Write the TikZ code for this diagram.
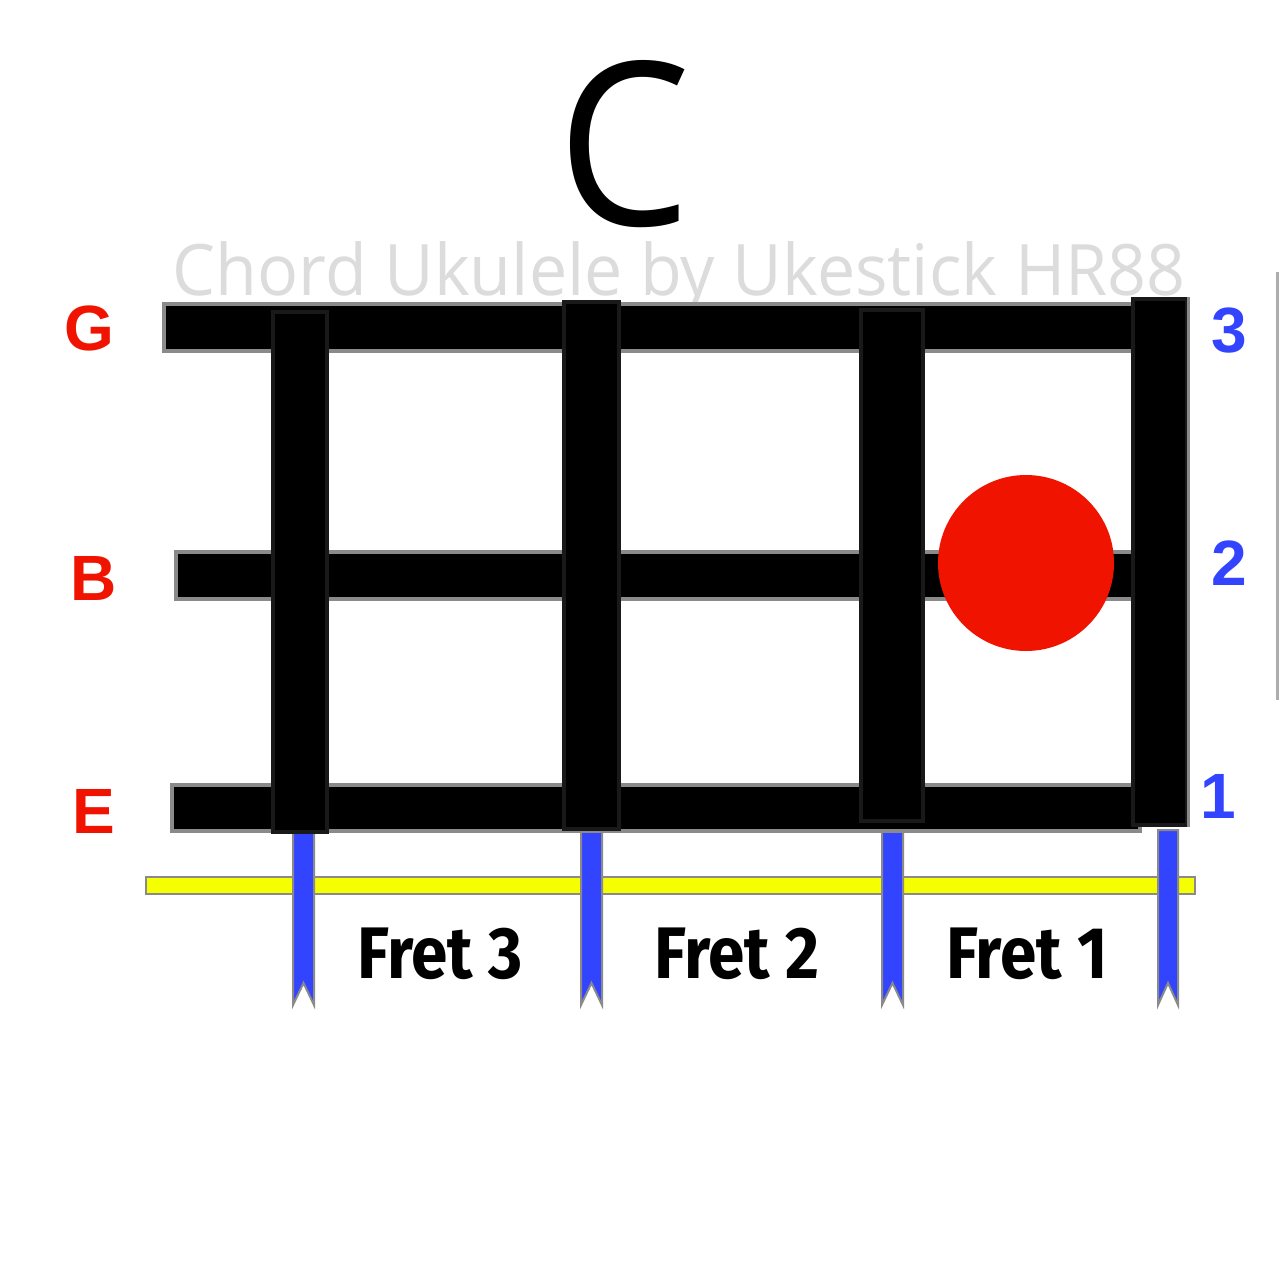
\documentclass[tikz,border=0pt]{standalone}
\usepackage{fontspec}
\newfontfamily\opensans{Open Sans}
\newfontfamily\firasans{Fira Sans}
\newfontfamily\labfont{Liberation Sans}
\definecolor{dotred}{HTML}{F01400}
\definecolor{ribblue}{HTML}{3344FF}
\definecolor{edgegray}{HTML}{8A8A8A}
\definecolor{subgray}{HTML}{DCDCDC}
\definecolor{baryellow}{HTML}{F5FF00}
\tikzset{
  every node/.style={inner sep=0pt},
  strbar/.style={fill=black, draw=edgegray, line width=4pt},
  fretbar/.style={fill=black, draw=black!80!gray, line width=4pt},
  ribbon/.style={fill=ribblue, draw=edgegray, line width=2pt},
  strlab/.style={text=dotred, font=\labfont\bfseries\fontsize{64}{64}\selectfont, anchor=base},
  numlab/.style={text=ribblue, font=\labfont\bfseries\fontsize{64}{64}\selectfont, anchor=base},
  fretlab/.style={text=black, font=\firasans\bfseries\fontsize{73}{73}\selectfont, anchor=base},
}
\begin{document}
\begin{tikzpicture}[x=1pt,y=-1pt]
\useasboundingbox (0,0) rectangle (1280,1280);
\fill[white] (0,0) rectangle (1280,1280);
% right edge gray line
\draw[edgegray!70, line width=3pt] (1277,272) -- (1277,700);
% title
\node[anchor=base, text height=166pt, text depth=0pt, font=\opensans\fontsize{228}{228}\selectfont] (title) at (624,225) {\scalebox{0.93}[1]{C}};
\node[anchor=base, text height=54pt, text depth=14pt, text=subgray, font=\opensans\fontsize{71}{71}\selectfont] (sub) at (679,295) {\scalebox{0.96}[1]{Chord Ukulele by Ukestick HR88}};
% yellow bar
\draw[fill=baryellow, draw=edgegray, line width=2pt] (146,877) rectangle (1195,894);
% ribbons
\foreach \xa/\xb in {293/314, 581/602, 882/903, 1158/1178}{
  \draw[ribbon] (\xa,830) -- (\xb,830) -- (\xb,1005) -- ({(\xa+\xb)/2},983) -- (\xa,1005) -- cycle;
}
% strings
\draw[strbar] (164,304) rectangle (1186,351);
\draw[strbar] (176,552) rectangle (1140,599);
\draw[strbar] (172,785) rectangle (1140,831);
% frets
\draw[fretbar] (273,312) rectangle (327,832);
\draw[fretbar] (564,302) rectangle (619,829);
\draw[fretbar] (861,310) rectangle (923,821);
\draw[fretbar] (1133,299) rectangle (1187,825);
\draw[edgegray, line width=3pt] (1188,297) -- (1188,827);
% finger dot
\fill[dotred] (1026,563) circle (88);
% string names
\node[strlab] (g) at (89,350) {G};
\node[strlab] (b) at (94,600) {B};
\node[strlab] (e) at (94,833) {E};
% string numbers
\node[numlab] (n3) at (1229,352) {3};
\node[numlab] (n2) at (1229,585) {2};
\node[numlab] (n1) at (1218,818) {1};
% fret labels
\node[fretlab] (f3) at (440,978) {\scalebox{0.9}[1]{Fret 3}};
\node[fretlab] (f2) at (737,978) {\scalebox{0.9}[1]{Fret 2}};
\node[fretlab] (f1) at (1027,978) {\scalebox{0.9}[1]{Fret 1}};
\end{tikzpicture}
\end{document}
